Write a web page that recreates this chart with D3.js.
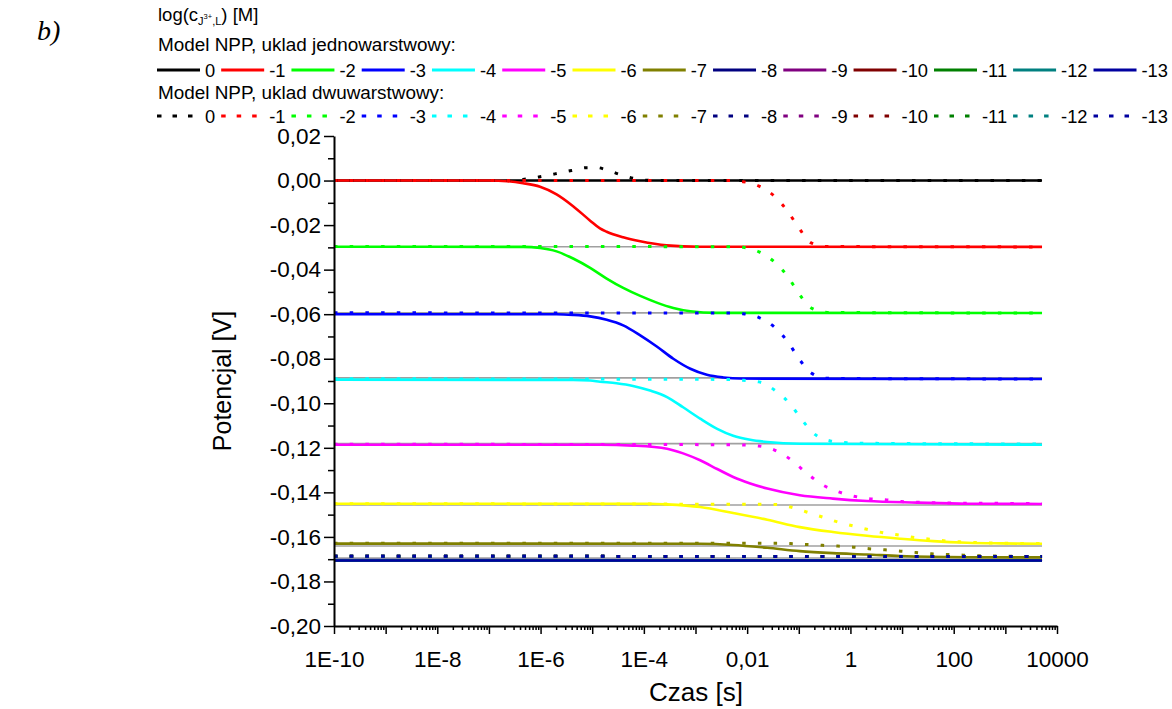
<!DOCTYPE html>
<html><head><meta charset="utf-8">
<script src="https://cdn.jsdelivr.net/npm/d3@7"></script>
<style>
body{margin:0;background:#fff}
svg text{font-family:"Liberation Sans",Arial,sans-serif;fill:#000}
</style>
</head><body>
<svg id="chart" width="1172" height="709"></svg>
<script>
// ---------- DATA ----------
// legend labels: log(c) [M]
const concLabels = ["0","-1","-2","-3","-4","-5","-6","-7","-8","-9","-10","-11","-12","-13"];
const seriesColors = ["#000000","#ff0000","#00ff00","#0000ff","#00ffff","#ff00ff","#ffff00",
                      "#808000","#000080","#800080","#800000","#008000","#008080","#0000a0"];

// x = log10(time [s]), y = potential [V]; single-layer model (solid lines)
const mono0  = [[-10,0],[3.71,0]];
const mono1  = [[-10,0],[-6.98,0],[-6.65,-0.0003],[-6.34,-0.0012],[-6.01,-0.0028],[-5.69,-0.0062],[-5.37,-0.0115],[-5.04,-0.0180],[-4.85,-0.0215],[-4.72,-0.0230],[-4.40,-0.0255],[-4.07,-0.0273],[-3.56,-0.0291],[-2.91,-0.0297],[3.71,-0.0298]];
const mono2  = [[-10,-0.0297],[-6.34,-0.0298],[-6.01,-0.0303],[-5.69,-0.0318],[-5.37,-0.0350],[-5.04,-0.0392],[-4.72,-0.0440],[-4.40,-0.0482],[-4.07,-0.0518],[-3.75,-0.0548],[-3.43,-0.0572],[-3.10,-0.0587],[-2.60,-0.0594],[3.71,-0.0595]];
const mono3  = [[-10,-0.0600],[-5.69,-0.0600],[-5.37,-0.0603],[-5.04,-0.0610],[-4.72,-0.0625],[-4.40,-0.0650],[-4.07,-0.0695],[-3.75,-0.0745],[-3.43,-0.0800],[-3.10,-0.0845],[-2.78,-0.0872],[-2.46,-0.0884],[-2.13,-0.0889],[3.71,-0.0891]];
const mono4  = [[-10,-0.0894],[-5.37,-0.0895],[-5.04,-0.0898],[-4.85,-0.0903],[-4.53,-0.0910],[-4.21,-0.0922],[-3.88,-0.0943],[-3.55,-0.0972],[-3.24,-0.1018],[-2.91,-0.1069],[-2.58,-0.1115],[-2.27,-0.1146],[-1.94,-0.1164],[-1.61,-0.1174],[-0.98,-0.1182],[3.71,-0.1186]];
const mono5  = [[-10,-0.1186],[-4.85,-0.1186],[-4.21,-0.1190],[-3.55,-0.1204],[-3.24,-0.1225],[-2.91,-0.1256],[-2.58,-0.1295],[-2.27,-0.1331],[-1.94,-0.1360],[-1.61,-0.1383],[-0.98,-0.1413],[-0.34,-0.1428],[0.32,-0.1439],[1.29,-0.1446],[2.26,-0.1451],[3.71,-0.1452]];
const mono6  = [[-10,-0.1451],[-3.87,-0.1451],[-3.55,-0.1454],[-2.91,-0.1466],[-2.27,-0.1493],[-1.61,-0.1523],[-0.98,-0.1556],[-0.34,-0.1578],[0.32,-0.1595],[0.96,-0.1608],[1.60,-0.1619],[2.26,-0.1626],[2.90,-0.1629],[3.71,-0.1631]];
const mono7  = [[-10,-0.1630],[-2.91,-0.1631],[-2.27,-0.1636],[-1.61,-0.1649],[-0.98,-0.1664],[-0.34,-0.1673],[0.32,-0.1679],[0.96,-0.1686],[2.26,-0.1691],[3.71,-0.1692]];
const mono8  = [[-10,-0.1704],[3.71,-0.1705]];
const mono9  = [[-10,-0.1705],[3.71,-0.1706]];
const mono10 = [[-10,-0.1706],[3.71,-0.1706]];
const mono11 = [[-10,-0.1706],[3.71,-0.1706]];
const mono12 = [[-10,-0.1706],[3.71,-0.1706]];
const mono13 = [[-10,-0.1706],[3.71,-0.1706]];

// double-layer model (dotted lines)
const dual0  = [[-10,0],[-6.65,0],[-6.34,0.0005],[-6.01,0.0017],[-5.72,0.0030],[-5.40,0.0045],[-5.10,0.0058],[-4.90,0.0058],[-4.75,0.0050],[-4.50,0.0030],[-4.21,0.0010],[-3.90,0.0001],[-3.50,0],[3.71,0]];
const dual1  = [[-10,0],[-2.30,0],[-2.08,-0.0005],[-1.77,-0.0025],[-1.46,-0.0073],[-1.21,-0.0140],[-1.00,-0.0212],[-0.76,-0.0280],[-0.45,-0.0296],[3.71,-0.0298]];
const dual2  = [[-10,-0.0296],[-2.30,-0.0297],[-2.08,-0.0300],[-1.77,-0.0320],[-1.46,-0.0368],[-1.21,-0.0432],[-1.00,-0.0507],[-0.76,-0.0572],[-0.45,-0.0592],[3.71,-0.0595]];
const dual3  = [[-10,-0.0594],[-2.30,-0.0595],[-2.08,-0.0598],[-1.77,-0.0615],[-1.46,-0.0660],[-1.21,-0.0725],[-1.00,-0.0799],[-0.76,-0.0864],[-0.45,-0.0888],[3.71,-0.0891]];
const dual4  = [[-10,-0.0890],[-2.30,-0.0893],[-2.08,-0.0897],[-1.77,-0.0904],[-1.46,-0.0942],[-1.16,-0.1005],[-0.94,-0.1074],[-0.68,-0.1141],[-0.39,-0.1169],[-0.07,-0.1177],[0.50,-0.1180],[3.71,-0.1183]];
const dual5  = [[-10,-0.1184],[-2.30,-0.1186],[-1.77,-0.1192],[-1.46,-0.1211],[-1.16,-0.1252],[-0.85,-0.1313],[-0.54,-0.1366],[-0.25,-0.1396],[0.06,-0.1417],[0.36,-0.1428],[0.67,-0.1433],[0.98,-0.1441],[1.27,-0.1444],[2.00,-0.1448],[3.71,-0.1450]];
const dual6  = [[-10,-0.1451],[-1.46,-0.1454],[-1.16,-0.1466],[-0.85,-0.1488],[-0.54,-0.1511],[-0.25,-0.1533],[0.06,-0.1551],[0.36,-0.1568],[0.67,-0.1583],[0.98,-0.1593],[1.27,-0.1604],[1.57,-0.1611],[1.88,-0.1619],[2.19,-0.1623],[2.49,-0.1626],[2.80,-0.1628],[3.71,-0.1630]];
const dual7  = [[-10,-0.1628],[-1.46,-0.1628],[-1.16,-0.1630],[-0.85,-0.1634],[-0.54,-0.1638],[-0.25,-0.1641],[0.06,-0.1646],[0.36,-0.1653],[0.67,-0.1658],[0.98,-0.1664],[1.27,-0.1670],[1.57,-0.1676],[1.88,-0.1679],[2.19,-0.1682],[2.80,-0.1686],[3.71,-0.1688]];
const dual8  = [[-10,-0.1687],[3.71,-0.1688]];
const dual9  = [[-10,-0.1687],[3.71,-0.1688]];
const dual10 = [[-10,-0.1687],[3.71,-0.1688]];
const dual11 = [[-10,-0.1687],[3.71,-0.1688]];
const dual12 = [[-10,-0.1687],[3.71,-0.1688]];
const dual13 = [[-10,-0.1687],[3.71,-0.1688]];

// thin grey steady-state lines
const greyLevels = [0,-0.0297,-0.0594,-0.0886,-0.1181,-0.1457,-0.1641,-0.1695];
const greyRange = [-10, 3.71];

// axes
const yMajorTicks = [0.02,0,-0.02,-0.04,-0.06,-0.08,-0.10,-0.12,-0.14,-0.16,-0.18,-0.20];
const yTickLabels = ["0,02","0,00","-0,02","-0,04","-0,06","-0,08","-0,10","-0,12","-0,14","-0,16","-0,18","-0,20"];
const xMajorTicks = [1e-10,1e-9,1e-8,1e-7,1e-6,1e-5,1e-4,1e-3,1e-2,1e-1,1,10,100,1000,10000];
const xTickLabels = ["1E-10","","1E-8","","1E-6","","1E-4","","0,01","","1","","100","","10000"];
const xTitle = "Czas [s]";
const yTitle = "Potencjal [V]";
const legendHead1 = "Model NPP, uklad jednowarstwowy:";
const legendHead2 = "Model NPP, uklad dwuwarstwowy:";

const monoSeries = [mono0,mono1,mono2,mono3,mono4,mono5,mono6,mono7,mono8,mono9,mono10,mono11,mono12,mono13];
const dualSeries = [dual0,dual1,dual2,dual3,dual4,dual5,dual6,dual7,dual8,dual9,dual10,dual11,dual12,dual13];

// ---------- DRAW ----------
const svg = d3.select("#chart");
const x = d3.scaleLog().domain([1e-10, 1e4]).range([334, 1057]);
const y = d3.scaleLinear().domain([-0.20, 0.02]).range([626, 136]);

const line = d3.line()
  .x(d => x(Math.pow(10, d[0])))
  .y(d => y(d[1]))
  .curve(d3.curveMonotoneX);

const plot = svg.append("g");

plot.selectAll(".grey").data(greyLevels).join("path")
  .attr("d", v => line([[greyRange[0], v],[greyRange[1], v]]))
  .attr("fill","none").attr("stroke","#a0a0a0").attr("stroke-width",1.6);

plot.selectAll(".mono").data(monoSeries).join("path")
  .attr("d", d => line(d))
  .attr("fill","none").attr("stroke",(d,i)=>seriesColors[i]).attr("stroke-width",2.6);

plot.selectAll(".dual").data(dualSeries).join("path")
  .attr("d", d => line(d))
  .attr("fill","none").attr("stroke",(d,i)=>seriesColors[i]).attr("stroke-width",3)
  .attr("stroke-dasharray","3.5,12.2");

// axes
const tickFont = 22.5;
svg.append("g").attr("transform","translate(334,0)")
  .call(d3.axisLeft(y).tickValues(yMajorTicks).tickFormat((d,i)=>yTickLabels[i]).tickSize(10).tickSizeOuter(0).tickPadding(3));
const yMinor = d3.range(-0.19, 0.02, 0.02).map(v => +v.toFixed(2));
svg.append("g").attr("transform","translate(334,0)")
  .call(d3.axisLeft(y).tickValues(yMinor).tickFormat("").tickSize(6).tickSizeOuter(0))
  .select(".domain").remove();

svg.append("g").attr("transform","translate(0,626)")
  .call(d3.axisBottom(x).tickValues(xMajorTicks).tickFormat((d,i)=>xTickLabels[i]).tickSize(8).tickSizeOuter(0).tickPadding(17));
const xMinor = [];
xMajorTicks.slice(0,-1).forEach(t => { for (let k=2;k<=9;k++) xMinor.push(t*k); });
svg.append("g").attr("transform","translate(0,626)")
  .call(d3.axisBottom(x).tickValues(xMinor).tickFormat("").tickSize(4).tickSizeOuter(0))
  .select(".domain").remove();

svg.selectAll(".domain").attr("stroke","#000").attr("stroke-width",2);
svg.selectAll(".tick line").attr("stroke","#000").attr("stroke-width",1.5);
svg.selectAll(".tick text").attr("font-size",tickFont).attr("font-family","Liberation Sans, Arial, sans-serif").attr("fill","#000");

// titles
svg.append("text").attr("x",696).attr("y",701).attr("text-anchor","middle")
  .attr("font-size",26).text(xTitle);
svg.append("text").attr("transform","translate(231,381) rotate(-90)").attr("text-anchor","middle")
  .attr("font-size",25).text(yTitle);

// panel label
svg.append("text").attr("x",37).attr("y",40).attr("font-size",28)
  .attr("font-style","italic").style("font-family","'Liberation Serif','Times New Roman',serif").text("b)");

// legend
const lg = svg.append("g");
const head = lg.append("text").attr("x",158).attr("y",21).attr("font-size",18.5);
head.append("tspan").text("log(c");
head.append("tspan").attr("font-size",11).attr("dy",4).text("J");
head.append("tspan").attr("font-size",7.5).attr("dy",-6).text("3+");
head.append("tspan").attr("font-size",11).attr("dy",6).text(",L");
head.append("tspan").attr("dy",-4).text(") [M]");

lg.append("text").attr("x",158).attr("y",51).attr("font-size",18.9).text(legendHead1);
lg.append("text").attr("x",158).attr("y",99).attr("font-size",18.9).text(legendHead2);

function legendRow(yy, dotted) {
  let cx = 157;
  concLabels.forEach((lab, i) => {
    lg.append("line").attr("x1",cx).attr("x2",cx+43).attr("y1",yy).attr("y2",yy)
      .attr("stroke",seriesColors[i]).attr("stroke-width",3)
      .attr("stroke-dasharray", dotted ? "4.5,11" : null);
    const t = lg.append("text").attr("x",cx+48).attr("y",yy+6.5).attr("font-size",18.3).text(lab);
    cx = cx + 48 + t.node().getComputedTextLength() + 6;
  });
}
legendRow(70, false);
legendRow(116, true);
</script>
</body></html>
